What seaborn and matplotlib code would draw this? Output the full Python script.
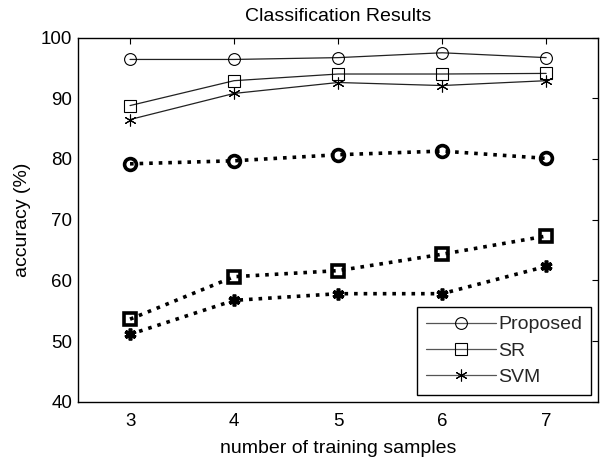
import numpy as np
import pandas as pd
import seaborn as sns
import matplotlib.pyplot as plt

# values
samples = [3, 4, 5, 6, 7]
proposed = [96.4, 96.4, 96.7, 97.5, 96.7]
sr = [88.8, 92.9, 94.0, 94.0, 94.1]
svm = [86.5, 90.8, 92.6, 92.1, 92.9]
proposed_b = [79.2, 79.7, 80.7, 81.3, 80.1]
sr_b = [53.6, 60.6, 61.6, 64.3, 67.3]
svm_b = [51.1, 56.7, 57.8, 57.8, 62.3]
yticks = [40, 50, 60, 70, 80, 90, 100]

sns.set_theme(style='white')
plt.rcParams['font.family'] = ['Liberation Sans', 'DejaVu Sans']

fig = plt.figure(figsize=(6.02, 4.58), dpi=100)
ax = fig.add_axes([0.1296, 0.1229, 0.864, 0.795])

asterisk = (6, 2, 0)

# thin solid series (these go in the legend)
solid = [(proposed, 'o', 'Proposed'), (sr, 's', 'SR'), (svm, asterisk, 'SVM')]
for vals, mk, name in solid:
    sns.lineplot(x=samples, y=vals, ax=ax, color='#222222', linewidth=0.9,
                 marker=mk, markersize=8.5, markerfacecolor='none',
                 markeredgecolor='black', markeredgewidth=0.8, label=name)

# thick dotted series
dotted = [(proposed_b, 'o'), (sr_b, 's'), (svm_b, asterisk)]
for vals, mk in dotted:
    sns.lineplot(x=samples, y=vals, ax=ax, color='black', linewidth=2.6,
                 linestyle=':', marker=mk, markersize=8.5, markerfacecolor='none',
                 markeredgecolor='black', markeredgewidth=2.6, legend=False)

ax.set_xlim(2.5, 7.5)
ax.set_ylim(40, 100)
ax.set_xticks(samples)
ax.set_yticks(yticks)
ax.tick_params(direction='in', length=4, width=0.8, color='black',
               top=True, right=True, labelsize=13.5, labelcolor='black')
ax.tick_params(axis='x', pad=8)
ax.tick_params(axis='y', pad=4)
for s in ax.spines.values():
    s.set_visible(True)
    s.set_color('black')
    s.set_linewidth(1.0)

ax.set_title('Classification Results', fontsize=14, color='black', pad=12)
ax.set_xlabel('number of training samples', fontsize=14, color='black', labelpad=7)
ax.set_ylabel('accuracy (%)', fontsize=14, color='black', labelpad=7)

leg = ax.legend(loc='lower right', fontsize=14, frameon=True, fancybox=False,
                borderaxespad=0.35, handlelength=3.6, handletextpad=0.15,
                labelspacing=0.45, borderpad=0.45)
leg.get_frame().set_edgecolor('black')
leg.get_frame().set_linewidth(1.0)
leg.get_frame().set_alpha(1)
for ln in leg.get_lines():
    ln.set_color('#555555')

fig.savefig('out.png', dpi=100)
